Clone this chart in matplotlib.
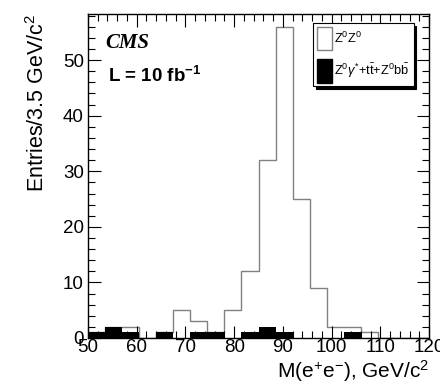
import numpy as np
import matplotlib
matplotlib.use("Agg")
import matplotlib.pyplot as plt
from matplotlib.patches import Patch
from matplotlib.ticker import MultipleLocator

edges = [50, 53.5, 57, 60.5, 64, 67.5, 71, 74.5, 78, 81.5, 85, 88.5, 92,
         95.5, 99, 102.5, 106, 109.5, 113, 116.5, 120]
zz = [1, 2, 2, 0, 1, 5, 3, 1, 5, 12, 32, 56, 25, 9, 2, 2, 1, 0, 0, 0]
bkg = [1, 2, 1, 0, 1, 0, 1, 1, 0, 1, 2, 1, 0, 0, 0, 1, 0, 0, 0, 0]

plt.rcParams['font.family'] = ['Liberation Sans', 'DejaVu Sans']
plt.rcParams['mathtext.fontset'] = 'custom'
plt.rcParams['mathtext.rm'] = 'Liberation Sans'
plt.rcParams['mathtext.it'] = 'Liberation Sans:italic'
plt.rcParams['mathtext.bf'] = 'Liberation Sans:bold'

fig = plt.figure(figsize=(4.4, 3.87), dpi=100)
ax = fig.add_axes([88/440, 1-338/387, (429-88)/440, (338-14)/387])

ax.stairs(zz, edges, color='#808080', linewidth=1.0)
ax.stairs(bkg, edges, fill=True, color='black')

ax.set_xlim(50, 120)
ax.set_ylim(0, 58.3)
ax.xaxis.set_major_locator(MultipleLocator(10))
ax.xaxis.set_minor_locator(MultipleLocator(2))
ax.yaxis.set_major_locator(MultipleLocator(10))
ax.yaxis.set_minor_locator(MultipleLocator(2))
ax.tick_params(which='both', direction='in', top=True, right=True, labelsize=13.5)
ax.tick_params(which='major', length=9, width=0.8)
ax.tick_params(which='minor', length=5, width=0.8)
ax.tick_params(axis='x', pad=1)
ax.tick_params(axis='y', pad=3)
for s in ax.spines.values():
    s.set_linewidth(1.0)

ax.set_xlabel(r'M(e$^{+}$e$^{-}$), GeV/c$^{2}$', fontsize=15, loc='right', labelpad=1)
ax.set_ylabel(r'Entries/3.5 GeV/c$^{2}$', fontsize=15.5, loc='top', labelpad=10)

ax.text(0.05, 0.91, 'CMS', transform=ax.transAxes, fontsize=15,
        fontweight='bold', fontstyle='italic', family='Liberation Serif',
        va='center', ha='left')
ax.text(0.06, 0.81, r'L = 10 fb$^{\mathbf{-1}}$', transform=ax.transAxes, fontsize=13.5,
        fontweight='bold', va='center', ha='left')

handles = [Patch(facecolor='white', edgecolor='#808080', linewidth=1.0),
           Patch(facecolor='black', edgecolor='black')]
labels = [r'Z$^{0}$Z$^{0}$', r'Z$^{0}\gamma^{*}$+t$\bar{\rm t}$+Z$^{0}$b$\bar{\rm b}$']
leg = ax.legend(handles, labels, loc='upper right', bbox_to_anchor=(0.955, 0.972),
                fontsize=9.3, frameon=True, fancybox=False, edgecolor='black',
                shadow={'color': 'black', 'alpha': 1.0}, framealpha=1,
                handlelength=1.2, handleheight=2.4, handletextpad=0.15,
                borderpad=0.3, labelspacing=0.7, borderaxespad=0)
leg.get_frame().set_linewidth(0.8)

fig.savefig('out.png', dpi=100)
